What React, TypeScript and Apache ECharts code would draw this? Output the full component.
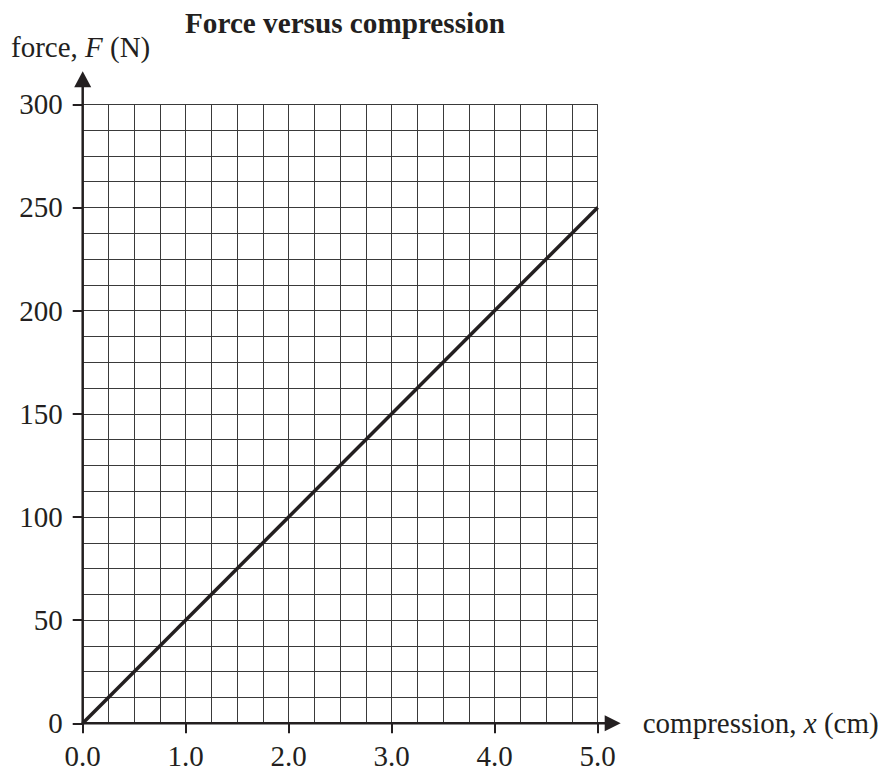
import React, { useEffect, useRef } from "react";
import * as echarts from "echarts";

const titleText = "Force versus compression";
const compression = [0.0, 5.0];
const force = [0, 250];
const xTickLabels = ["0.0", "1.0", "2.0", "3.0", "4.0", "5.0"];
const yTickLabels = ["0", "50", "100", "150", "200", "250", "300"];

const FONT = "'Liberation Serif', 'Times New Roman', serif";
const INK = "#231f20";
const FS = 29;

export default function App() {
  const ref = useRef<HTMLDivElement>(null);
  useEffect(() => {
    if (!ref.current) return;
    const chart = echarts.init(ref.current, null, { renderer: "svg" });
    const xMax = Number(xTickLabels[xTickLabels.length - 1]);
    const yMax = Number(yTickLabels[yTickLabels.length - 1]);
    const option: any = {
      animation: false,
      backgroundColor: "#ffffff",
      title: {
        text: titleText,
        left: 340,
        top: 3,
        textAlign: "center",
        textStyle: { fontFamily: FONT, fontWeight: "bold", fontSize: 29.2, color: INK },
      },
      grid: { left: 82.7, top: 104.3, width: 515, height: 619, containLabel: false },
      xAxis: [
        {
          type: "value", min: 0, max: xMax, interval: 0.25,
          axisLine: { show: false }, axisTick: { show: false }, axisLabel: { show: false },
          splitLine: { show: true, lineStyle: { color: "#3a3a3a", width: 1 } },
        },
        {
          type: "value", min: 0, max: xMax, interval: 1, position: "bottom",
          axisLine: { show: false },
          axisTick: { show: true, length: 10, lineStyle: { color: INK, width: 2 } },
          axisLabel: {
            margin: 18, fontFamily: FONT, fontSize: FS, color: INK,
            formatter: (v: number) => xTickLabels[Math.round(v)] ?? "",
          },
          splitLine: { show: false },
          name: "compression, {i|x} (cm)",
          nameLocation: "end",
          nameGap: 45,
          nameTextStyle: {
            fontFamily: FONT, fontSize: FS, color: INK, align: "left", verticalAlign: "middle",
            rich: { i: { fontFamily: FONT, fontSize: FS, fontStyle: "italic", color: INK } },
          },
        },
      ],
      yAxis: [
        {
          type: "value", min: 0, max: yMax, interval: 12.5,
          axisLine: { show: false }, axisTick: { show: false }, axisLabel: { show: false },
          splitLine: { show: true, lineStyle: { color: "#3a3a3a", width: 1 } },
        },
        {
          type: "value", min: 0, max: yMax, interval: 50, position: "left",
          axisLine: { show: false },
          axisTick: { show: true, length: 10, lineStyle: { color: INK, width: 2 } },
          axisLabel: {
            margin: 20, fontFamily: FONT, fontSize: FS, color: INK,
            formatter: (v: number) => yTickLabels[Math.round(v / 50)] ?? "",
          },
          splitLine: { show: false },
        },
      ],
      series: [
        {
          type: "line",
          xAxisIndex: 0,
          yAxisIndex: 0,
          data: compression.map((c, i) => [c, force[i]]),
          showSymbol: false,
          symbol: "none",
          lineStyle: { color: INK, width: 3.5 },
          z: 5,
        },
      ],
    };
    chart.setOption(option);

    const p0 = chart.convertToPixel({ xAxisIndex: 0, yAxisIndex: 0 }, [0, 0]) as number[];
    const pTop = chart.convertToPixel({ xAxisIndex: 0, yAxisIndex: 0 }, [0, yMax]) as number[];
    const pRight = chart.convertToPixel({ xAxisIndex: 0, yAxisIndex: 0 }, [xMax, 0]) as number[];

    chart.setOption({
      graphic: [
        {
          type: "line", z: 10,
          shape: { x1: p0[0], y1: p0[1] + 1, x2: p0[0], y2: pTop[1] - 20 },
          style: { stroke: INK, lineWidth: 2.5 },
        },
        {
          type: "polygon", z: 10,
          shape: { points: [[p0[0], pTop[1] - 33], [p0[0] - 8.5, pTop[1] - 17], [p0[0] + 8.5, pTop[1] - 17]] },
          style: { fill: INK },
        },
        {
          type: "line", z: 10,
          shape: { x1: p0[0] - 1, y1: p0[1], x2: pRight[0] + 10, y2: p0[1] },
          style: { stroke: INK, lineWidth: 2.5 },
        },
        {
          type: "polygon", z: 10,
          shape: { points: [[pRight[0] + 23, p0[1]], [pRight[0] + 7, p0[1] - 8], [pRight[0] + 7, p0[1] + 8]] },
          style: { fill: INK },
        },
        {
          type: "text", z: 10,
          x: 11, y: 47,
          style: {
            text: "force, {i|F} (N)",
            fontFamily: FONT, fontSize: FS, fill: INK, verticalAlign: "middle", align: "left",
            rich: { i: { fontFamily: FONT, fontSize: FS, fontStyle: "italic", fill: INK } },
          },
        },
      ],
    });

    return () => chart.dispose();
  }, []);
  return (
    <div
      ref={ref}
      style={{ position: "fixed", left: 0, top: 0, width: 884, height: 771, background: "#fff" }}
    />
  );
}
